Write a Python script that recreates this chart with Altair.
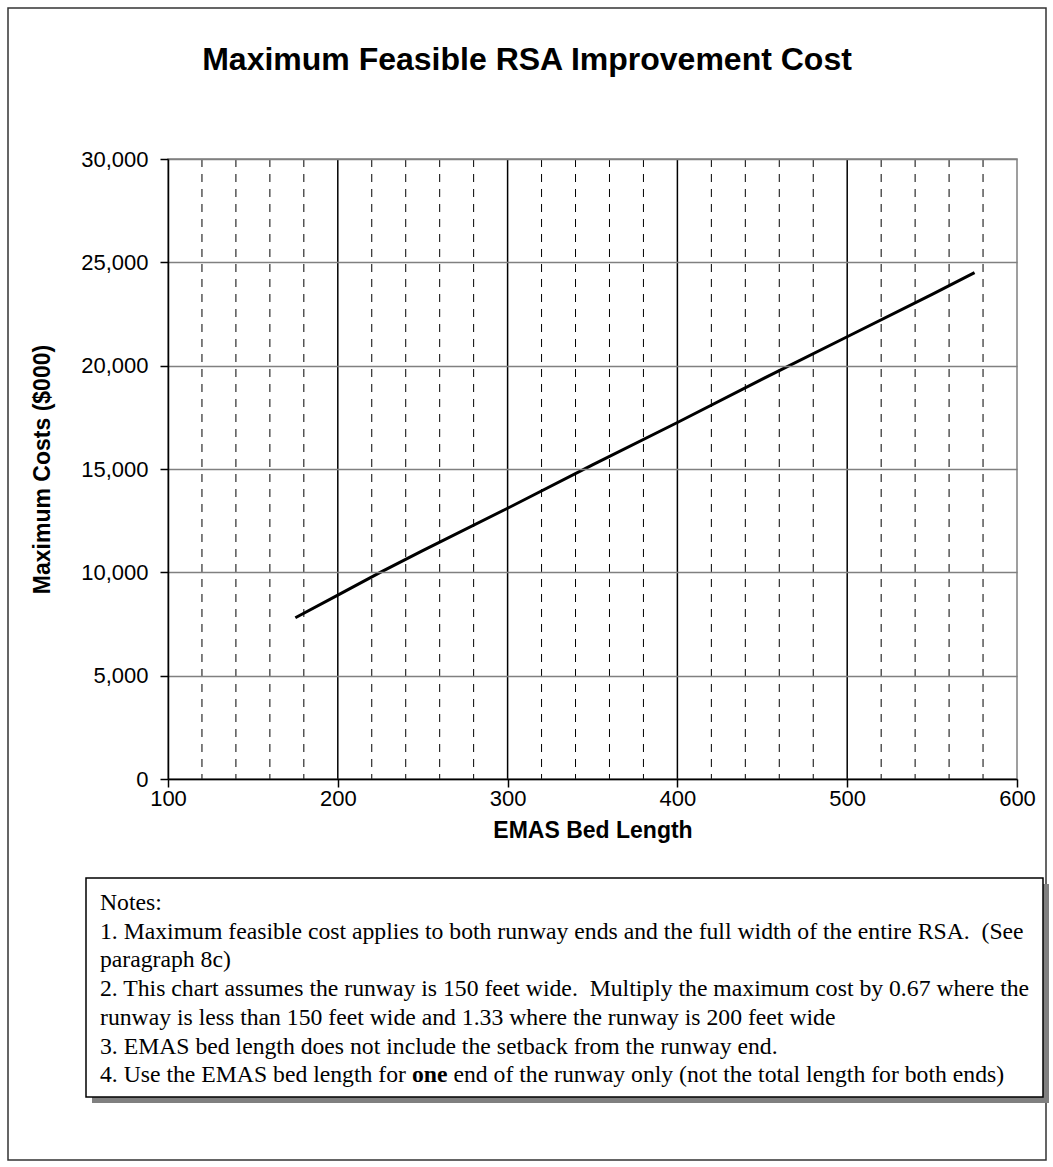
import altair as alt
import pandas as pd

# ---- data ----
bed_length = [175, 200, 225, 250, 300, 350, 400, 450, 500, 550, 575]
max_cost = [7800, 8900, 10000, 11050, 13100, 15200, 17250, 19350, 21400, 23450, 24500]

x_ticks = [100, 200, 300, 400, 500, 600]
y_ticks = [0, 5000, 10000, 15000, 20000, 25000, 30000]
major_grid = [200, 300, 400, 500]
minor_grid = [120, 140, 160, 180, 220, 240, 260, 280, 320, 340, 360, 380,
              420, 440, 460, 480, 520, 540, 560, 580]

title_text = "Maximum Feasible RSA Improvement Cost"
x_title = "EMAS Bed Length"
y_title = "Maximum Costs ($000)"
notes_lines = [
    "Notes:",
    "1. Maximum feasible cost applies to both runway ends and the full width of the entire RSA. \u00a0(See",
    "paragraph 8c)",
    "2. This chart assumes the runway is 150 feet wide. \u00a0Multiply the maximum cost by 0.67 where the",
    "runway is less than 150 feet wide and 1.33 where the runway is 200 feet wide",
    "3. EMAS bed length does not include the setback from the runway end.",
]
note4_parts = ["4. Use the EMAS bed length for", "one",
               "end of the runway only (not the total length for both ends)"]

line_df = pd.DataFrame({"len": bed_length, "cost": max_cost})
major_df = pd.DataFrame({"g": major_grid})
minor_df = pd.DataFrame({"g": minor_grid})

W, H = 849, 620
xscale = alt.Scale(domain=[100, 600], nice=False, zero=False)
yscale = alt.Scale(domain=[0, 30000], nice=False)

LFS = 22   # tick label size
TFS = 23   # axis title size
x_axis = alt.Axis(title=x_title, values=x_ticks, format="d", grid=False,
                  domainColor="black", domainWidth=1.5, tickColor="black",
                  tickSize=8, tickWidth=1.5, labelFontSize=LFS, labelPadding=1,
                  labelFlush=False, labelOverlap=False,
                  labelFont="Liberation Sans", labelColor="black",
                  titleFont="Liberation Sans", titleFontSize=TFS, titleFontWeight="bold",
                  titleColor="black", titleX=W / 2, titleY=51,
                  titleBaseline="middle", zindex=1)
y_axis = alt.Axis(title=y_title, values=y_ticks, format=",d", grid=True,
                  gridColor="#808080", gridWidth=1.5,
                  domainColor="black", domainWidth=1.5, tickColor="black",
                  tickSize=8, tickWidth=1.5, labelFontSize=LFS, labelPadding=12,
                  labelFlush=False, labelOverlap=False,
                  labelFont="Liberation Sans", labelColor="black",
                  titleFont="Liberation Sans", titleFontSize=TFS, titleFontWeight="bold",
                  titleColor="black", titleX=-126, titleY=H / 2, titleAngle=270,
                  titleBaseline="middle", zindex=1)

one = pd.DataFrame({"a": [0]})

# outer frame
frame = alt.Chart(one).mark_rect(fillOpacity=0, stroke="#333333", strokeWidth=1.5).encode(
    x=alt.value(-160), x2=alt.value(878), y=alt.value(-151), y2=alt.value(1001))

title = alt.Chart(one).mark_text(
    text=title_text, font="Liberation Sans", fontSize=32, fontWeight="bold",
    align="center", baseline="middle", color="black").encode(
    x=alt.value(359), y=alt.value(-99))

minor = alt.Chart(minor_df).mark_rule(color="black", strokeWidth=1, strokeDash=[8, 7]).encode(
    x=alt.X("g:Q", scale=xscale, axis=x_axis))

major = alt.Chart(major_df).mark_rule(color="black", strokeWidth=1.5).encode(
    x=alt.X("g:Q", scale=xscale, axis=x_axis))

line = alt.Chart(line_df).mark_line(color="black", strokeWidth=3).encode(
    x=alt.X("len:Q", scale=xscale, axis=x_axis),
    y=alt.Y("cost:Q", scale=yscale, axis=y_axis),
)

shadow = alt.Chart(one).mark_rect(fill="#808080").encode(
    x=alt.value(-76), x2=alt.value(881), y=alt.value(725), y2=alt.value(944))
box = alt.Chart(one).mark_rect(fill="white", stroke="black", strokeWidth=1.5).encode(
    x=alt.value(-82), x2=alt.value(875), y=alt.value(719), y2=alt.value(938))

NFS = 23.7
# Times / Liberation Serif advance widths (em) for the characters of note 4's first parts
TIMES = {" ": .25, ".": .25, "4": .5, "U": .722, "s": .389, "e": .444, "t": .278,
         "h": .5, "E": .611, "M": .889, "A": .722, "S": .556, "b": .5, "d": .5,
         "l": .278, "n": .5, "g": .5, "f": .333, "o": .5, "r": .333}
TIMES_BOLD = {"o": .5, "n": .556, "e": .444}


def text_w(s, table, size):
    return sum(table[c] for c in s) * size


x0 = -68
xa_end = x0 + text_w(note4_parts[0], TIMES, NFS)
xb = xa_end + 0.25 * NFS
xc = xb + text_w(note4_parts[1], TIMES_BOLD, NFS) + 0.25 * NFS

notes = alt.Chart(one).mark_text(
    text=notes_lines, font="Liberation Serif", fontSize=NFS, lineHeight=28.7,
    align="left", baseline="top", color="black").encode(
    x=alt.value(x0), y=alt.value(732))

n4a = alt.Chart(one).mark_text(text=note4_parts[0], font="Liberation Serif", fontSize=NFS,
                               align="left", baseline="middle", color="black").encode(
    x=alt.value(x0), y=alt.value(916))
n4b = alt.Chart(one).mark_text(text=note4_parts[1], font="Liberation Serif", fontSize=NFS,
                               fontWeight="bold", align="left", baseline="middle",
                               color="black").encode(
    x=alt.value(xb), y=alt.value(916))
n4c = alt.Chart(one).mark_text(text=note4_parts[2], font="Liberation Serif", fontSize=NFS,
                               align="left", baseline="middle", color="black").encode(
    x=alt.value(xc), y=alt.value(916))

chart = alt.layer(frame, title, minor, major, line, shadow, box, notes, n4a, n4b, n4c).properties(
    width=W, height=H,
    autosize=alt.AutoSizeParams(type="none"),
    padding={"left": 168, "top": 159, "right": 36, "bottom": 388},
    background="white",
).configure_view(stroke="#808080", strokeWidth=1.5)

chart.save("out.html", embed_options={"renderer": "svg", "actions": False})
